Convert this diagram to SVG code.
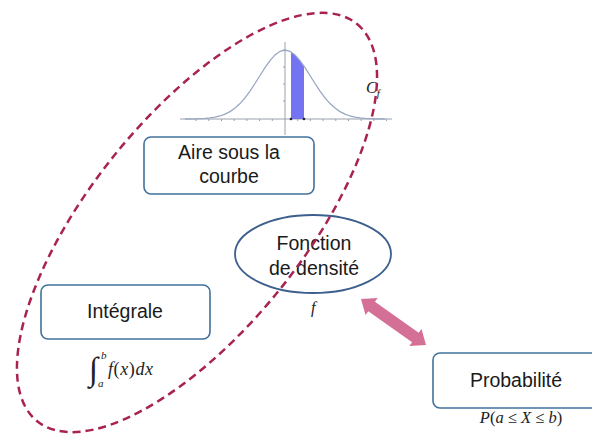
<svg xmlns="http://www.w3.org/2000/svg" width="592" height="435" viewBox="0 0 592 435">
<style>
.box{fill:#fff;stroke:#41719C;stroke-width:1.6}
.lbl{font-family:"Liberation Sans",Arial,sans-serif;font-size:19.5px;fill:#1a1a1a;text-anchor:middle}
.math{font-family:"Liberation Serif","Times New Roman",serif;font-style:italic;fill:#222}
.up{font-style:normal}
.ax{stroke:#9aa0aa;stroke-width:1;fill:none}
</style>
<rect width="592" height="435" fill="#fff"/>
<g id="chart">
<line class="ax" x1="180" y1="119" x2="392" y2="119"/>
<line class="ax" x1="285" y1="42" x2="285" y2="135"/>
<path class="ax" stroke-width="0.8" d="M196.1 119v2M208.8 119v2M221.5 119v2M234.2 119v2M246.9 119v2M259.6 119v2M272.3 119v2M297.7 119v2M310.4 119v2M323.1 119v2M335.8 119v2M348.5 119v2M361.2 119v2M373.9 119v2M386.6 119v2M285 67h-2M285 84h-2M285 101h-2M285 50h-2"/>
<polygon points="291,119 291,51.8 295,54.9 300,60.6 304,66.2 304,119" fill="#7474F2"/>
<polyline fill="none" stroke="#9aa8c4" stroke-width="1.3" points="185,119 195,118.8 205,118.4 210,117.9 215,117.2 220,116 225,114.2 230,111.6 235,108.1 240,103.6 245,97.9 250,91.1 255,83.5 260,75.5 265,67.7 270,60.6 275,54.9 280,51.3 285,50 290,51.3 295,54.9 300,60.6 305,67.7 310,75.5 315,83.5 320,91.1 325,97.9 330,103.6 335,108.1 340,111.6 345,114.2 350,116 355,117.2 360,117.9 365,118.4 375,118.8 385,119"/>
<circle cx="291" cy="119" r="1.3" fill="#223"/>
<circle cx="304" cy="119" r="1.3" fill="#223"/>
<text class="math" x="366" y="93" font-size="16">C<tspan font-size="11" dy="4">f</tspan></text>
</g>
<g id="aire">
<rect class="box" x="144" y="137" width="170" height="57" rx="7"/>
<text class="lbl" x="229" y="159">Aire sous la</text>
<text class="lbl" x="229" y="182.5">courbe</text>
</g>
<g id="integrale">
<rect class="box" x="41" y="285" width="169" height="54" rx="7"/>
<text class="lbl" x="125" y="318">Intégrale</text>
<text class="math" x="89" y="380" font-size="33" font-style="normal">∫</text>
<text class="math" x="101" y="359" font-size="11">b</text>
<text class="math" x="98" y="387" font-size="11">a</text>
<text class="math" x="108" y="375" font-size="18" letter-spacing="0.6">f<tspan class="up">(</tspan>x<tspan class="up">)</tspan>dx</text>
</g>
<g id="fonction">
<ellipse cx="313" cy="254" rx="78" ry="39" fill="#fff" stroke="#3d5f8c" stroke-width="1.8"/>
<text class="lbl" x="314" y="249.5">Fonction</text>
<text class="lbl" x="314" y="274.5">de densité</text>
<text class="math" x="311" y="313" font-size="16">f</text>
</g>
<g id="probabilite">
<rect class="box" x="433" y="353" width="168" height="55" rx="7"/>
<text class="lbl" x="516" y="386.5">Probabilité</text>
<text class="math" x="521" y="423" font-size="16.5" text-anchor="middle">P<tspan class="up">(</tspan>a <tspan class="up">≤</tspan> X <tspan class="up">≤</tspan> b<tspan class="up">)</tspan></text>
</g>
<g id="connectors">
<polygon points="361,299 365.5,315.1 368.3,311.2 412.1,342.2 409.3,346.1 426,345 421.5,328.9 418.7,332.8 374.9,301.8 377.7,297.9" fill="#D46F95"/>
<ellipse cx="197" cy="222.5" rx="255" ry="106.5" transform="rotate(-51.2 197 222.5)" fill="none" stroke="#A8244F" stroke-width="2.5" stroke-dasharray="8 5"/>
</g>
</svg>
